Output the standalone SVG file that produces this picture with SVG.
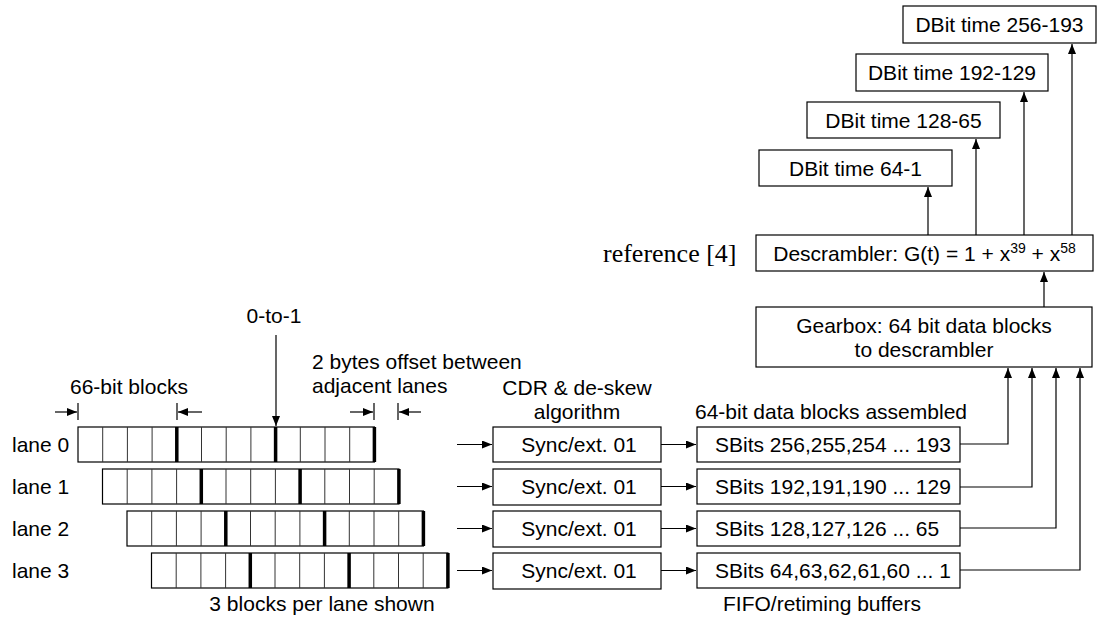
<svg xmlns="http://www.w3.org/2000/svg" width="1097" height="617" viewBox="0 0 1097 617">
<style>
text{font-family:"Liberation Sans",Arial,sans-serif;font-size:21px;fill:#000}
.c{text-anchor:middle}
.box{fill:#fff;stroke:#000;stroke-width:1.2}
.thin{fill:none;stroke:#333;stroke-width:1}
.thick{fill:none;stroke:#000;stroke-width:3.5}
.ln{fill:none;stroke:#000;stroke-width:1.2}
.ref{font-family:"Liberation Serif","Times New Roman",serif;font-size:26px}
</style>
<defs>
<marker id="ah" markerWidth="10" markerHeight="8" refX="10" refY="4" orient="auto" markerUnits="userSpaceOnUse">
<path d="M0,0 L10,4 L0,8 z" fill="#000"/>
</marker>
</defs>
<rect width="1097" height="617" fill="#fff"/>

<!-- DBit output boxes -->
<g id="dbit4"><rect class="box" x="903" y="6" width="193" height="37"/><text class="c" x="999.5" y="32">DBit time 256-193</text></g>
<g id="dbit3"><rect class="box" x="856" y="54" width="192" height="37"/><text class="c" x="952" y="80">DBit time 192-129</text></g>
<g id="dbit2"><rect class="box" x="807" y="102" width="193" height="36"/><text class="c" x="903.5" y="128">DBit time 128-65</text></g>
<g id="dbit1"><rect class="box" x="759" y="150" width="193" height="36"/><text class="c" x="855.5" y="176">DBit time 64-1</text></g>

<!-- Descrambler -->
<g id="descrambler"><rect class="box" x="756" y="235" width="337" height="36"/><text class="c" x="924.5" y="261">Descrambler: G(t) = 1 + x<tspan font-size="14" dy="-8">39</tspan><tspan dy="8"> + x</tspan><tspan font-size="14" dy="-8">58</tspan></text></g>
<text class="ref" x="603" y="262">reference [4]</text>

<!-- Gearbox -->
<g id="gearbox"><rect class="box" x="756" y="307" width="336" height="60"/><text class="c" x="924" y="333">Gearbox: 64 bit data blocks</text><text class="c" x="924" y="357">to descrambler</text></g>

<!-- Annotations -->
<text class="c" x="274" y="323">0-to-1</text>
<text x="312" y="369">2 bytes offset between</text>
<text x="312" y="393">adjacent lanes</text>
<text x="70" y="394">66-bit blocks</text>
<text class="c" x="577" y="395">CDR &amp; de-skew</text>
<text class="c" x="577" y="419">algorithm</text>
<text class="c" x="831" y="419">64-bit data blocks assembled</text>
<text class="c" x="322" y="611">3 blocks per lane shown</text>
<text class="c" x="822" y="611">FIFO/retiming buffers</text>

<!-- Lane labels -->
<text x="12" y="452">lane 0</text>
<text x="12" y="494">lane 1</text>
<text x="12" y="536">lane 2</text>
<text x="12" y="578">lane 3</text>

<!-- Lanes -->
<g id="lane0">
<rect class="box" x="78" y="427" width="296.4" height="35"/>
<path class="thin" d="M102.7,427V462M127.4,427V462M152.1,427V462M201.5,427V462M226.2,427V462M250.9,427V462M300.3,427V462M325,427V462M349.7,427V462"/>
<path class="thick" d="M176.8,427V462M275.6,427V462M374.4,427V462"/>
</g>
<g id="lane1">
<rect class="box" x="102.5" y="469" width="296.4" height="35"/>
<path class="thin" d="M127.2,469V504M151.9,469V504M176.6,469V504M226,469V504M250.7,469V504M275.4,469V504M324.8,469V504M349.5,469V504M374.2,469V504"/>
<path class="thick" d="M201.3,469V504M300.1,469V504M398.9,469V504"/>
</g>
<g id="lane2">
<rect class="box" x="127" y="511" width="296.4" height="35"/>
<path class="thin" d="M151.7,511V546M176.4,511V546M201.1,511V546M250.5,511V546M275.2,511V546M299.9,511V546M349.3,511V546M374,511V546M398.7,511V546"/>
<path class="thick" d="M225.8,511V546M324.6,511V546M423.4,511V546"/>
</g>
<g id="lane3">
<rect class="box" x="151.5" y="553" width="296.4" height="35"/>
<path class="thin" d="M176.2,553V588M200.9,553V588M225.6,553V588M275,553V588M299.7,553V588M324.4,553V588M373.8,553V588M398.5,553V588M423.2,553V588"/>
<path class="thick" d="M250.3,553V588M349.1,553V588M447.9,553V588"/>
</g>

<!-- Sync boxes -->
<g id="sync0"><rect class="box" x="493" y="427" width="168" height="35"/><text class="c" x="579" y="452">Sync/ext. 01</text></g>
<g id="sync1"><rect class="box" x="493" y="469" width="168" height="36"/><text class="c" x="579" y="494">Sync/ext. 01</text></g>
<g id="sync2"><rect class="box" x="493" y="511" width="168" height="36"/><text class="c" x="579" y="536">Sync/ext. 01</text></g>
<g id="sync3"><rect class="box" x="493" y="553" width="168" height="36"/><text class="c" x="579" y="578">Sync/ext. 01</text></g>

<!-- SBits boxes -->
<g id="sbits0"><rect class="box" x="697" y="427" width="263" height="35"/><text x="715" y="452">SBits 256,255,254 ... 193</text></g>
<g id="sbits1"><rect class="box" x="697" y="469" width="263" height="35"/><text x="715" y="494">SBits 192,191,190 ... 129</text></g>
<g id="sbits2"><rect class="box" x="697" y="511" width="263" height="35"/><text x="715" y="536">SBits 128,127,126 ... 65</text></g>
<g id="sbits3"><rect class="box" x="697" y="553" width="263" height="35"/><text x="715" y="578">SBits 64,63,62,61,60 ... 1</text></g>

<!-- Connectors -->
<g id="connectors" class="ln">
<path class="ln" d="M928,235V187" marker-end="url(#ah)"/>
<path class="ln" d="M976,235V139" marker-end="url(#ah)"/>
<path class="ln" d="M1024,235V92" marker-end="url(#ah)"/>
<path class="ln" d="M1072,235V44" marker-end="url(#ah)"/>
<path class="ln" d="M1044,307V272" marker-end="url(#ah)"/>
<path class="ln" d="M960,444H1008V368" marker-end="url(#ah)"/>
<path class="ln" d="M960,487H1032V368" marker-end="url(#ah)"/>
<path class="ln" d="M960,528H1056V368" marker-end="url(#ah)"/>
<path class="ln" d="M960,570H1080V368" marker-end="url(#ah)"/>
<path class="ln" d="M457,444.5H492" marker-end="url(#ah)"/>
<path class="ln" d="M457,486.5H492" marker-end="url(#ah)"/>
<path class="ln" d="M457,528.5H492" marker-end="url(#ah)"/>
<path class="ln" d="M457,570.5H492" marker-end="url(#ah)"/>
<path class="ln" d="M661,444.5H696" marker-end="url(#ah)"/>
<path class="ln" d="M661,486.5H696" marker-end="url(#ah)"/>
<path class="ln" d="M661,528.5H696" marker-end="url(#ah)"/>
<path class="ln" d="M661,570.5H696" marker-end="url(#ah)"/>
<path class="ln" d="M276,335V426" marker-end="url(#ah)"/>
<path class="ln" d="M78,403V420M177,403V420M374,403V420M398,403V420"/>
<path class="ln" d="M55,412H77" marker-end="url(#ah)"/>
<path class="ln" d="M202,412H178" marker-end="url(#ah)"/>
<path class="ln" d="M350,412H373" marker-end="url(#ah)"/>
<path class="ln" d="M421,412H399" marker-end="url(#ah)"/>
</g>
</svg>
